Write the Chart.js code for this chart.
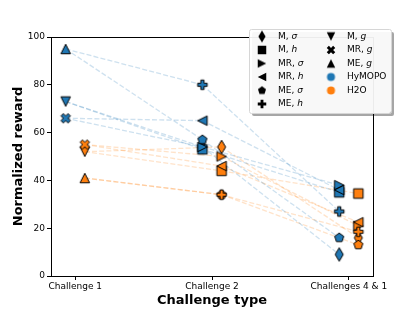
<!DOCTYPE html>
<html>
<head>
<meta charset="utf-8">
<script src="https://cdn.jsdelivr.net/npm/chart.js@4.4.0/dist/chart.umd.min.js"></script>
<style>
  html, body { margin: 0; padding: 0; background: #fff; }
  #wrap { width: 415px; height: 311px; }
</style>
</head>
<body>
<div id="wrap"><canvas id="myChart" width="415" height="311"></canvas></div>
<script>
const challenges = ["Challenge 1", "Challenge 2", "Challenges 4 & 1"];
const methods = ["HyMOPO", "H2O"];
const colors = ["#1f77b4", "#ff7f0e"];
const lineColors = ["rgba(31,119,180,0.22)", "rgba(255,127,14,0.22)"];

// challenge 1 only has the goal tasks: M g, MR g, ME g
const goalLabels = ["M, g", "MR, g", "ME, g"];
const hymopoGoal = [73, 66, 95];
const h2oGoal = [52, 55, 41];

// challenge 2 and challenges 4&1: M σ, M h, MR σ, MR h, ME σ, ME h
const perturbLabels = ["M, σ", "M, h", "MR, σ", "MR, h", "ME, σ", "ME, h"];
const hymopoCh2 = [54, 53, 54, 65, 57, 80];
const h2oCh2 = [54, 44, 50, 46, 34, 34];
const hymopoCh3 = [9, 35, 38, 36, 16, 27];
const h2oCh3 = [16, 34.5, 21, 22.5, 13, 18.5];

const yTicks = [0, 20, 40, 60, 80, 100];

const perturbShapes = ["thin_diamond", "square", "tri_right", "tri_left", "pentagon", "plus"];
const goalShapes = ["tri_down", "x", "tri_up"];
const offsets = [-0.07, 0.07];

// draw a matplotlib-like marker path centred at 0,0, S = marker size in px
function shapePath(ctx, shape, S) {
  let pts = [];
  const h = S / 2;
  if (shape == "square") pts = [[-h, -h], [h, -h], [h, h], [-h, h]];
  if (shape == "thin_diamond") pts = [[0, -0.707 * S], [0.6 * 0.707 * S, 0], [0, 0.707 * S], [-0.6 * 0.707 * S, 0]];
  if (shape == "tri_up") pts = [[0, -h], [h, h], [-h, h]];
  if (shape == "tri_down") pts = [[0, h], [h, -h], [-h, -h]];
  if (shape == "tri_right") pts = [[h, 0], [-h, -h], [-h, h]];
  if (shape == "tri_left") pts = [[-h, 0], [h, -h], [h, h]];
  if (shape == "pentagon") {
    for (let i = 0; i < 5; i++) {
      let a = -Math.PI / 2 + i * 2 * Math.PI / 5;
      pts.push([h * Math.cos(a), h * Math.sin(a)]);
    }
  }
  if (shape == "plus") {
    pts = [[-1, -3], [1, -3], [1, -1], [3, -1], [3, 1], [1, 1], [1, 3], [-1, 3], [-1, 1], [-3, 1], [-3, -1], [-1, -1]]
      .map(p => [p[0] / 6 * S, p[1] / 6 * S]);
  }
  if (shape == "x") {
    pts = [[-1, -2], [0, -1], [1, -2], [2, -1], [1, 0], [2, 1], [1, 2], [0, 1], [-1, 2], [-2, 1], [-1, 0], [-2, -1]]
      .map(p => [p[0] / 4 * S, p[1] / 4 * S]);
  }
  ctx.beginPath();
  pts.forEach((p, i) => (i == 0 ? ctx.moveTo(p[0], p[1]) : ctx.lineTo(p[0], p[1])));
  ctx.closePath();
}

function makeMarker(shape, fill, S, edge) {
  const c = document.createElement("canvas");
  const size = Math.ceil(S * 1.6) + 4;
  c.width = size;
  c.height = size;
  const ctx = c.getContext("2d");
  ctx.translate(size / 2, size / 2);
  if (shape == "circle") {
    ctx.beginPath();
    ctx.arc(0, 0, S / 2, 0, Math.PI * 2);
  } else {
    shapePath(ctx, shape, S);
  }
  ctx.fillStyle = fill;
  ctx.fill();
  if (edge) {
    ctx.lineWidth = 1;
    ctx.strokeStyle = edge;
    ctx.lineJoin = "miter";
    ctx.stroke();
  }
  return c;
}

const goals = [hymopoGoal, h2oGoal];
const ch2 = [hymopoCh2, h2oCh2];
const ch3 = [hymopoCh3, h2oCh3];

let datasets = [];
let order = 5000;

// dashed connecting lines
methods.forEach((m, mi) => {
  const off = offsets[mi];
  for (let i = 0; i < 6; i++) {
    const env = Math.floor(i / 2);
    datasets.push({
      label: m + " line",
      data: [{ x: 0 + off, y: goals[mi][env] }, { x: 1 + off, y: ch2[mi][i] }],
      showLine: true, borderColor: lineColors[mi], borderWidth: 1.3, borderDash: [5, 2.2],
      pointRadius: 0, order: 9000
    });
    datasets.push({
      label: m + " line",
      data: [{ x: 1 + off, y: ch2[mi][i] }, { x: 2 + off, y: ch3[mi][i] }],
      showLine: true, borderColor: lineColors[mi], borderWidth: 1.3, borderDash: [5, 2.2],
      pointRadius: 0, order: 9000
    });
  }
});

// markers
methods.forEach((m, mi) => {
  const off = offsets[mi];
  for (let i = 0; i < 6; i++) {
    datasets.push({
      label: m + " " + perturbLabels[i],
      data: [{ x: 1 + off, y: ch2[mi][i] }, { x: 2 + off, y: ch3[mi][i] }],
      showLine: false,
      pointStyle: makeMarker(perturbShapes[i], colors[mi], 9.5, "#000"),
      pointRadius: 5,
      order: order--
    });
  }
  for (let e = 0; e < 3; e++) {
    datasets.push({
      label: m + " " + goalLabels[e],
      data: [{ x: 0 + off, y: goals[mi][e] }],
      showLine: false,
      pointStyle: makeMarker(goalShapes[e], colors[mi], 9.5, "#000"),
      pointRadius: 5,
      order: order--
    });
  }
});

// legend entries (two columns)
const legendCol1 = perturbLabels.map((l, i) => ({ text: l, marker: makeMarker(perturbShapes[i], "#000", 8.5) }));
const legendCol2 = goalLabels.map((l, i) => ({ text: l, marker: makeMarker(goalShapes[i], "#000", 8.5) }))
  .concat(methods.map((m, i) => ({ text: m, marker: makeMarker("circle", colors[i], 8) })));

function drawLabel(ctx, text, x, y) {
  // italic math symbol after the comma
  const parts = text.split(", ");
  ctx.font = "9px 'DejaVu Sans'";
  if (parts.length == 1) {
    ctx.fillText(text, x, y);
    return;
  }
  const first = parts[0] + ", ";
  ctx.fillText(first, x, y);
  const w = ctx.measureText(first).width;
  ctx.font = "italic 9px 'DejaVu Sans'";
  ctx.fillText(parts[1], x + w, y);
}

const framePlugin = {
  id: "frameAndLegend",
  afterDraw(chart) {
    const ctx = chart.ctx;
    const a = chart.chartArea;
    ctx.save();
    ctx.strokeStyle = "#000";
    ctx.lineWidth = 1;
    ctx.strokeRect(Math.round(a.left) + 0.5, Math.round(a.top) + 0.5, Math.round(a.right - a.left), Math.round(a.bottom - a.top));

    // legend box
    const bx = 249, by = 29, bw = 142, bh = 84;
    ctx.fillStyle = "rgba(0,0,0,0.35)";
    ctx.beginPath();
    ctx.roundRect(bx + 3, by + 3, bw, bh, 2);
    ctx.fill();
    ctx.fillStyle = "rgba(255,255,255,0.92)";
    ctx.beginPath();
    ctx.roundRect(bx, by, bw, bh, 2);
    ctx.fill();
    ctx.strokeStyle = "#d6d6d6";
    ctx.lineWidth = 1;
    ctx.beginPath();
    ctx.roundRect(bx + 0.5, by + 0.5, bw, bh, 2);
    ctx.stroke();

    ctx.fillStyle = "#000";
    ctx.textBaseline = "middle";
    ctx.textAlign = "left";
    legendCol1.forEach((it, i) => {
      const y = 36.5 + i * 13.5;
      ctx.drawImage(it.marker, 262 - it.marker.width / 2, y - it.marker.height / 2);
      drawLabel(ctx, it.text, 278, y);
    });
    legendCol2.forEach((it, i) => {
      const y = 36.5 + i * 13.5;
      ctx.drawImage(it.marker, 331 - it.marker.width / 2, y - it.marker.height / 2);
      drawLabel(ctx, it.text, 347, y);
    });
    ctx.restore();
  }
};

const tickFont = { family: "DejaVu Sans", size: 9 };
const titleFont = { family: "DejaVu Sans", size: 13, weight: "bold" };

let ctx = document.getElementById("myChart").getContext("2d");
let chart = new Chart(ctx, {
  type: "scatter",
  data: { datasets: datasets },
  options: {
    responsive: false,
    devicePixelRatio: 1,
    animation: false,
    layout: { padding: { top: 37, right: 42, left: 0, bottom: 0 } },
    plugins: { legend: { display: false }, tooltip: { enabled: false } },
    scales: {
      x: {
        type: "linear",
        min: -0.177,
        max: 2.177,
        afterBuildTicks: s => { s.ticks = [0, 1, 2].map(v => ({ value: v })); },
        afterFit: s => { s.height = 35; },
        ticks: { callback: v => challenges[v], font: tickFont, color: "#000", padding: 1, autoSkip: false, maxRotation: 0 },
        grid: { drawOnChartArea: false, drawTicks: true, tickLength: 4, color: "#000" },
        border: { color: "#000" },
        title: { display: true, text: "Challenge type", font: titleFont, color: "#000", padding: { top: 0, bottom: 3 } }
      },
      y: {
        min: 0,
        max: 100,
        afterBuildTicks: s => { s.ticks = yTicks.map(v => ({ value: v })); },
        afterFit: s => { s.width = 51; },
        ticks: { font: tickFont, color: "#000", padding: 2 },
        grid: { drawOnChartArea: false, drawTicks: true, tickLength: 4, color: "#000" },
        border: { color: "#000" },
        title: { display: true, text: "Normalized reward", font: titleFont, color: "#000", padding: { top: 11, bottom: 0 } }
      }
    }
  },
  plugins: [framePlugin]
});
</script>
</body>
</html>
